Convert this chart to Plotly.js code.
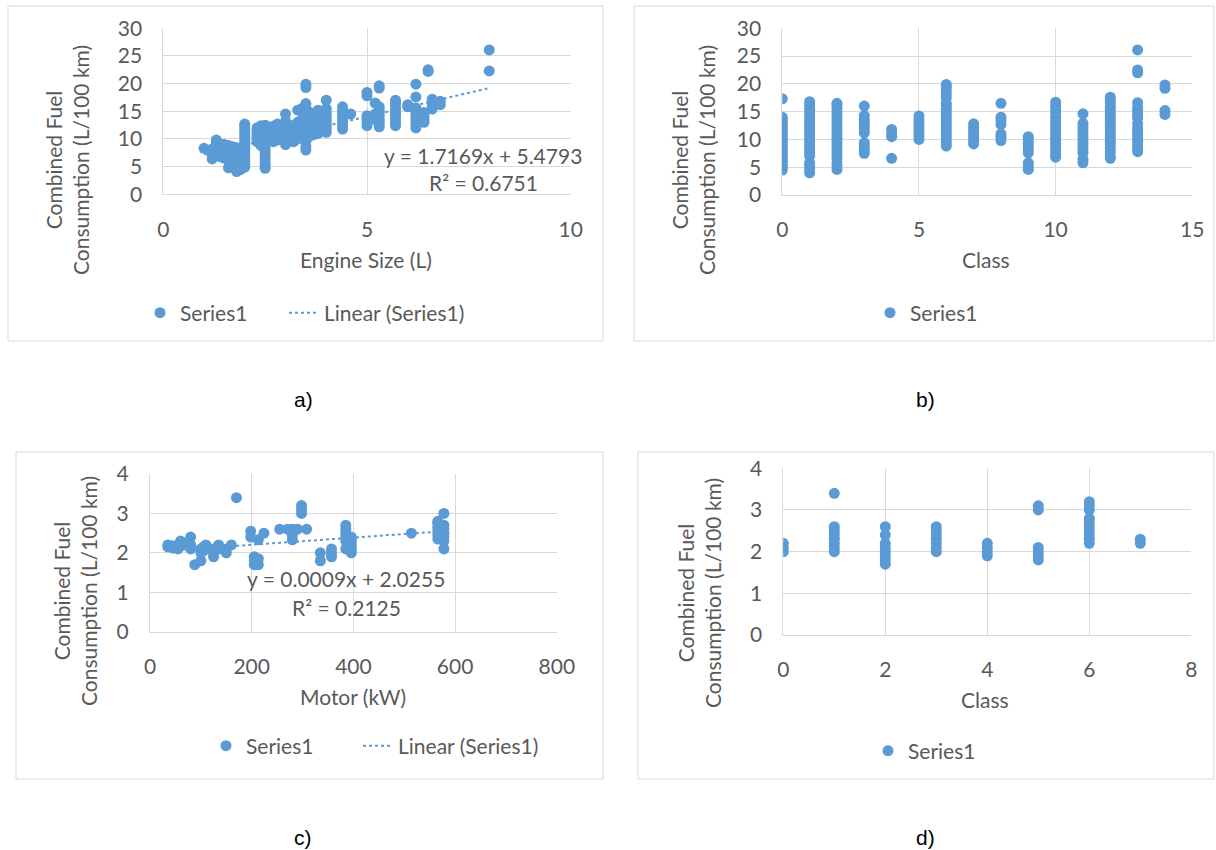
<!DOCTYPE html>
<html>
<head>
<meta charset="utf-8">
<script src="https://cdn.plot.ly/plotly-3.0.1.min.js"></script>
<style>html,body{margin:0;padding:0;background:#fff;}#chart{width:1216px;height:850px;}</style>
</head>
<body>
<div id="chart"></div>
<script>
// ---------- Panel a: Engine size vs combined fuel consumption ----------
const engineSize = [1.0, 1.2, 1.3, 1.4, 1.5, 1.6, 1.7, 1.8, 1.9, 2.0, 2.3, 2.4, 2.5, 2.7, 2.8, 3.0, 3.2, 3.3, 3.4, 3.5, 3.6, 3.7, 3.8, 4.0, 4.4, 4.6, 5.0, 5.2, 5.3, 5.7, 6.0, 6.2, 6.4, 6.5, 6.6, 6.8, 8.0];
const fuelA = [
  [8.3],
  [6.4, 7.0, 7.6, 8.2],
  [7.2, 7.8, 8.5, 9.2, 9.8],
  [6.8, 7.5, 8.0, 8.6, 9.1],
  [6.5, 7.2, 7.8, 8.4, 9.0],
  [4.8, 6.2, 6.9, 7.5, 8.2, 8.8],
  [6.0, 6.8, 7.4, 8.0, 8.6],
  [4.1, 4.6, 5.2, 6.6, 7.2, 7.8, 8.4],
  [4.5, 6.5, 7.5, 8.3],
  [4.9, 5.4, 5.9, 6.4, 6.9, 7.4, 7.9, 8.4, 8.9, 9.4, 9.9, 10.4, 10.9, 11.4, 11.9, 12.4, 12.7],
  [9.5, 10.0, 10.5, 11.0, 11.5, 12.0],
  [8.8, 9.4, 10.0, 10.6, 11.2, 11.8, 12.4],
  [4.7, 5.3, 5.9, 6.5, 7.1, 7.7, 8.3, 8.9, 9.5, 10.1, 10.7, 11.3, 11.9, 12.5],
  [9.5, 10.2, 10.9, 11.6, 12.3],
  [9.8, 10.5, 11.2, 12.0, 12.7],
  [9.0, 9.6, 10.2, 10.8, 11.4, 12.0, 12.6, 13.2, 14.5],
  [9.5, 10.1, 10.7, 11.3, 11.9, 12.5],
  [10.0, 10.6, 11.2, 11.8, 12.4, 13.0, 15.2],
  [10.2, 10.8, 11.4, 12.0, 12.6, 13.5, 15.5],
  [8.0, 8.6, 9.6, 10.2, 10.8, 11.4, 12.0, 12.6, 13.2, 13.8, 14.4, 15.0, 15.6, 16.4, 19.3, 19.9],
  [10.5, 11.1, 11.7, 12.3, 12.9, 13.5, 14.1, 14.8],
  [10.8, 11.4, 12.0, 12.6, 13.2, 14.0],
  [11.0, 11.6, 12.2, 12.8, 13.4, 14.0, 14.6, 15.2],
  [11.2, 11.8, 12.4, 13.0, 13.6, 14.2, 14.8, 15.5, 17.0],
  [11.8, 12.4, 13.0, 13.6, 14.2, 14.8, 15.4, 15.8],
  [14.5],
  [12.4, 13.0, 13.6, 14.2, 17.8, 18.4],
  [13.5, 14.5, 16.5],
  [12.2, 12.8, 13.4, 14.0, 14.6, 15.2, 15.8, 19.2, 19.6],
  [12.4, 13.0, 13.6, 14.2, 14.8, 15.4, 16.0, 16.6, 17.0],
  [15.8, 16.2],
  [12.0, 12.6, 13.2, 13.8, 14.4, 15.0, 15.6, 17.6, 19.9],
  [13.0, 13.6, 14.2, 14.8],
  [22.2, 22.5],
  [15.4, 16.0, 16.6, 17.2],
  [16.2, 16.8],
  [22.3, 26.1]
];
const trendAX = [1.0, 8.0];
const trendAY = [7.2, 19.2];
const eqA = ["y = 1.7169x + 5.4793", "R² = 0.6751"];

// ---------- Panel b: Class vs combined fuel consumption ----------
const classB = [0, 1, 2, 3, 4, 5, 6, 7, 8, 9, 10, 11, 12, 13, 14];
const fuelB = [
  [4.5, 5.0, 5.5, 6.0, 6.5, 7.0, 7.5, 8.0, 8.5, 9.0, 9.5, 10.0, 10.5, 11.0, 11.5, 12.0, 12.5, 13.0, 13.5, 14.0, 17.3],
  [4.0, 4.6, 5.2, 5.8, 7.0, 7.6, 8.2, 8.8, 9.4, 10.0, 10.6, 11.2, 11.8, 12.4, 13.0, 13.6, 14.4, 15.0, 15.6, 16.2, 16.8],
  [4.6, 5.2, 5.8, 6.6, 7.2, 7.8, 8.4, 9.0, 9.6, 10.2, 10.8, 11.4, 12.0, 12.6, 13.2, 13.8, 14.4, 15.0, 15.6, 16.2, 16.5],
  [7.5, 8.2, 8.8, 9.4, 11.2, 11.8, 12.4, 13.0, 13.6, 14.3, 16.0],
  [6.6, 10.5, 11.0, 11.8],
  [10.0, 10.6, 11.2, 11.8, 12.4, 13.0, 13.5, 14.2],
  [8.8, 9.4, 10.0, 10.6, 11.2, 11.8, 12.4, 13.0, 13.6, 14.2, 14.8, 15.4, 16.0, 16.5, 17.5, 18.2, 18.8, 19.4, 19.9],
  [9.2, 9.8, 10.4, 11.0, 11.6, 12.2, 12.8],
  [9.8, 10.4, 11.0, 12.7, 13.4, 14.0, 16.5],
  [4.6, 5.2, 5.8, 7.6, 8.2, 8.8, 9.4, 10.0, 10.5],
  [6.8, 7.4, 8.0, 8.6, 9.2, 9.8, 10.4, 11.0, 11.6, 12.2, 12.8, 13.4, 14.0, 14.8, 15.4, 16.0, 16.7],
  [5.8, 6.4, 7.5, 8.1, 8.7, 9.3, 9.9, 10.5, 11.1, 11.7, 12.3, 12.9, 14.6],
  [6.6, 7.0, 7.8, 8.4, 9.2, 9.8, 10.4, 11.0, 11.6, 12.2, 12.8, 13.4, 14.0, 14.6, 15.2, 15.8, 16.4, 17.0, 17.6],
  [7.8, 8.4, 9.0, 9.6, 10.2, 10.8, 11.4, 12.0, 12.8, 13.9, 14.5, 15.1, 15.7, 16.6, 22.0, 22.5, 26.1],
  [14.5, 15.2, 19.2, 19.8]
];

// ---------- Panel c: Motor power vs combined fuel consumption ----------
const motorKW = [35, 45, 55, 60, 65, 80, 88, 100, 105, 110, 125, 135, 150, 160, 170, 198, 205, 213, 224, 255, 270, 280, 290, 298, 308, 335, 357, 385, 396, 514, 566, 578];
const fuelC = [
  [2.2, 2.15],
  [2.12, 2.18],
  [2.1],
  [2.3, 2.2],
  [2.25],
  [2.4, 2.15, 2.2, 2.1],
  [1.7],
  [1.8, 2.0, 2.1],
  [2.15, 2.05],
  [2.2, 2.1],
  [1.9, 2.0, 2.1],
  [2.2, 2.1],
  [2.0, 2.1],
  [2.2],
  [3.4],
  [2.55, 2.4],
  [1.7, 1.8, 1.9],
  [1.7, 1.85, 2.33],
  [2.5],
  [2.6],
  [2.6],
  [2.33, 2.45, 2.6],
  [2.6],
  [3.0, 3.1, 3.2],
  [2.6],
  [1.8, 2.0],
  [1.9, 2.0, 2.1],
  [2.1, 2.3, 2.4, 2.5, 2.6, 2.7],
  [2.0, 2.1, 2.2, 2.3, 2.4],
  [2.5],
  [2.35, 2.45, 2.55, 2.65, 2.75, 2.8],
  [2.1, 2.3, 2.4, 2.5, 2.6, 2.7, 3.0]
];
const trendCX = [40, 580];
const trendCY = [2.06, 2.55];
const eqC = ["y = 0.0009x + 2.0255", "R² = 0.2125"];

// ---------- Panel d: Class vs combined fuel consumption ----------
const classD = [0, 1, 2, 3, 4, 5, 6, 7];
const fuelD = [
  [2.0, 2.1, 2.2],
  [2.0, 2.1, 2.2, 2.3, 2.4, 2.5, 2.6, 3.4],
  [1.7, 1.8, 1.9, 2.0, 2.1, 2.2, 2.4, 2.6],
  [2.0, 2.1, 2.2, 2.3, 2.4, 2.5, 2.6],
  [1.9, 2.0, 2.1, 2.2],
  [1.8, 1.9, 2.0, 2.1, 3.0, 3.1],
  [2.2, 2.3, 2.4, 2.5, 2.6, 2.7, 2.8, 3.0, 3.1, 3.2],
  [2.2, 2.3]
];

// ---------- Text ----------
const yTitle = "Combined Fuel<br>Consumption (L/100 km)";
const xTitles = ["Engine Size (L)", "Class", "Motor (kW)", "Class"];
const panelLabels = ["a)", "b)", "c)", "d)"];
const seriesName = "Series1";
const trendName = "Linear (Series1)";

// ---------- Build ----------
function flat(xs, ys) {
  const x = [], y = [];
  xs.forEach((v, i) => ys[i].forEach(w => { x.push(v); y.push(w); }));
  return {x, y};
}
const W = 1216, H = 850;
const px = v => v / W, py = v => 1 - v / H;
const BLUE = '#5B9BD5', GRID = '#D9D9D9', TXT = '#595959', FONT = 'Lato, "Open Sans", sans-serif';
const FS = 21;

const A = flat(engineSize, fuelA), B = flat(classB, fuelB), C = flat(motorKW, fuelC), D = flat(classD, fuelD);
const mk = {color: BLUE, size: 11};
const dotLine = {color: BLUE, width: 2, dash: 'dot'};

const traces = [
  {x: A.x, y: A.y, type: 'scatter', mode: 'markers', marker: mk, name: seriesName, xaxis: 'x', yaxis: 'y', legend: 'legend'},
  {x: trendAX, y: trendAY, type: 'scatter', mode: 'lines', line: dotLine, name: trendName, xaxis: 'x', yaxis: 'y', legend: 'legend5'},
  {x: B.x, y: B.y, type: 'scatter', mode: 'markers', marker: mk, name: seriesName, xaxis: 'x2', yaxis: 'y2', legend: 'legend2'},
  {x: C.x, y: C.y, type: 'scatter', mode: 'markers', marker: mk, name: seriesName, xaxis: 'x3', yaxis: 'y3', legend: 'legend3'},
  {x: trendCX, y: trendCY, type: 'scatter', mode: 'lines', line: dotLine, name: trendName, xaxis: 'x3', yaxis: 'y3', legend: 'legend6'},
  {x: D.x, y: D.y, type: 'scatter', mode: 'markers', marker: mk, name: seriesName, xaxis: 'x4', yaxis: 'y4', legend: 'legend4'}
];

function ax(domain, range, dtick, anchor, standoff) {
  return {domain, range, dtick, tick0: 0, showgrid: true, gridcolor: GRID, gridwidth: 1,
    showline: true, linecolor: GRID, linewidth: 1, zeroline: false, ticks: '',
    tickfont: {family: FONT, size: FS, color: TXT}, ticklabelstandoff: standoff, anchor, fixedrange: true};
}
const legFont = {family: FONT, size: FS, color: TXT};
const leg = (x, y) => ({orientation: 'h', x: px(x), y: py(y), xanchor: 'left', yanchor: 'middle', font: legFont, bgcolor: 'rgba(0,0,0,0)'});

const layout = {
  width: W, height: H, margin: {l: 0, r: 0, t: 0, b: 0},
  paper_bgcolor: '#fff', plot_bgcolor: '#fff', showlegend: true,
  font: {family: FONT, color: TXT},
  xaxis: ax([px(163.3), px(570.7)], [0, 10], 5, 'y', 16),
  yaxis: ax([py(194.3), py(28.3)], [0, 30], 5, 'x', 16),
  xaxis2: ax([px(782.3), px(1192.3)], [0, 15], 5, 'y2', 16),
  yaxis2: ax([py(195), py(28.3)], [0, 30], 5, 'x2', 16),
  xaxis3: ax([px(150), px(556.8)], [0, 800], 200, 'y3', 16),
  yaxis3: ax([py(631.7), py(474)], [0, 4], 1, 'x3', 16),
  xaxis4: ax([px(783.3), px(1191.3)], [0, 8], 2, 'y4', 16),
  yaxis4: ax([py(635), py(468.3)], [0, 4], 1, 'x4', 16),
  legend:  leg(140, 313),
  legend5: leg(284, 313),
  legend2: leg(870, 313),
  legend3: leg(206, 746),
  legend6: leg(358, 746),
  legend4: leg(868, 751),
  shapes: [
    {type: 'rect', xref: 'paper', yref: 'paper', x0: px(8), x1: px(603), y0: py(341), y1: py(6), line: {color: GRID, width: 1}},
    {type: 'rect', xref: 'paper', yref: 'paper', x0: px(634), x1: px(1214), y0: py(341), y1: py(6), line: {color: GRID, width: 1}},
    {type: 'rect', xref: 'paper', yref: 'paper', x0: px(16), x1: px(603), y0: py(779), y1: py(452), line: {color: GRID, width: 1}},
    {type: 'rect', xref: 'paper', yref: 'paper', x0: px(638), x1: px(1214), y0: py(779), y1: py(452), line: {color: GRID, width: 1}}
  ],
  annotations: []
};

const ann = (text, x, y, opts) => Object.assign({text, xref: 'paper', yref: 'paper', x: px(x), y: py(y),
  xanchor: 'center', yanchor: 'middle', showarrow: false, font: {family: FONT, size: FS, color: TXT}}, opts || {});

// y-axis titles
[[67, 160], [693, 160], [75, 591], [699, 593]].forEach(p =>
  layout.annotations.push(ann(yTitle, p[0], p[1], {textangle: -90})));
// x-axis titles
[[366, 259], [986, 259], [353, 696], [985, 699]].forEach((p, i) =>
  layout.annotations.push(ann(xTitles[i], p[0], p[1])));
// trendline equations
layout.annotations.push(ann(eqA[0], 483, 155));
layout.annotations.push(ann(eqA[1], 483, 182));
layout.annotations.push(ann(eqC[0], 346, 578));
layout.annotations.push(ann(eqC[1], 346, 607));
// panel labels
[[303, 399], [925, 399], [303, 837], [925, 837]].forEach((p, i) =>
  layout.annotations.push(ann(panelLabels[i], p[0], p[1], {font: {family: 'Liberation Sans, Arial, sans-serif', size: 21, color: '#000'}})));

Plotly.newPlot('chart', traces, layout, {displayModeBar: false, staticPlot: true});
</script>
</body>
</html>
